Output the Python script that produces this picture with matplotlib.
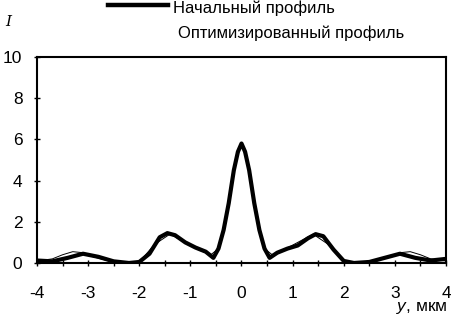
import matplotlib.pyplot as plt
from matplotlib.lines import Line2D

plt.rcParams['font.family'] = ['Liberation Sans', 'DejaVu Sans']
plt.rcParams['axes.unicode_minus'] = False
plt.rcParams['mathtext.fontset'] = 'custom'
plt.rcParams['mathtext.it'] = 'Liberation Sans:italic'

# initial profile (thick line)
y_init = [-4.0, -3.7, -3.4, -3.1, -2.8, -2.5, -2.2, -2.0, -1.8, -1.6, -1.45, -1.3, -1.1,
          -0.9, -0.7, -0.55, -0.45, -0.35, -0.25, -0.15, -0.07, 0.0,
          0.07, 0.15, 0.25, 0.35, 0.45, 0.55, 0.7, 0.9, 1.1, 1.3, 1.45, 1.6,
          1.8, 2.0, 2.2, 2.5, 2.8, 3.1, 3.4, 3.7, 4.0]
i_init = [0.12, 0.08, 0.25, 0.45, 0.3, 0.08, 0.0, 0.05, 0.45, 1.25, 1.45, 1.35, 1.0,
          0.75, 0.55, 0.25, 0.7, 1.6, 2.9, 4.5, 5.4, 5.8,
          5.4, 4.5, 2.9, 1.6, 0.7, 0.25, 0.5, 0.7, 0.85, 1.2, 1.4, 1.3,
          0.65, 0.1, 0.0, 0.05, 0.25, 0.45, 0.25, 0.12, 0.2]

# optimized profile (thin line)
y_opt = [-4.0, -3.7, -3.5, -3.3, -3.1, -2.9, -2.6, -2.3, -2.0, -1.7, -1.4, -1.1,
         -0.8, -0.6, -0.45, -0.3, -0.15, 0.0, 0.15, 0.3, 0.45, 0.6, 0.8,
         1.1, 1.4, 1.7, 2.0, 2.3, 2.6, 2.9, 3.1, 3.3, 3.5, 3.7, 4.0]
i_opt = [0.1, 0.2, 0.4, 0.55, 0.5, 0.3, 0.1, 0.02, 0.05, 0.9, 1.4, 1.0,
         0.6, 0.4, 0.7, 2.3, 4.6, 5.8, 4.6, 2.3, 0.7, 0.4, 0.6,
         1.0, 1.4, 0.9, 0.05, 0.02, 0.1, 0.3, 0.5, 0.55, 0.4, 0.2, 0.1]

x_ticks = [-4, -3, -2, -1, 0, 1, 2, 3, 4]
y_ticks = [0, 2, 4, 6, 8, 10]

W, H = 452, 317
fig = plt.figure(figsize=(W / 100, H / 100), dpi=100)
ax = fig.add_axes([37 / W, 1 - 263 / H, 409 / W, 206 / H])

ax.plot(y_opt, i_opt, color='black', lw=0.7)
ax.plot(y_init, i_init, color='black', lw=3)

ax.set_xlim(-4, 4)
ax.set_ylim(0, 10)
ax.set_xticks(x_ticks)
ax.set_yticks(y_ticks)
ax.set_xticks([-3.5, -2.5, -1.5, -0.5, 0.5, 1.5, 2.5, 3.5], minor=True)
ax.tick_params(axis='both', which='major', labelsize=12.5, length=5, width=1, direction='inout')
ax.tick_params(axis='x', which='minor', length=5, width=1, direction='inout')
ax.tick_params(axis='y', pad=8)
ax.tick_params(axis='x', pad=14)
for s in ax.spines.values():
    s.set_linewidth(1.5)

fig.text(5 / W, 1 - 22 / H, 'I', fontsize=11, style='italic', family='DejaVu Serif', va='center')
fig.text(448 / W, 1 - 316 / H, '$y$, мкм', fontsize=12.5, ha='right', va='bottom')

# legend drawn by hand above the axes
fig.add_artist(Line2D([108 / W, 168 / W], [1 - 5 / H, 1 - 5 / H], color='black', lw=3.2))
fig.text(173 / W, 1 - 8 / H, 'Начальный профиль', fontsize=12, va='center')
fig.text(178 / W, 1 - 33 / H, 'Оптимизированный профиль', fontsize=12, va='center')

fig.savefig('out.png', dpi=100)
